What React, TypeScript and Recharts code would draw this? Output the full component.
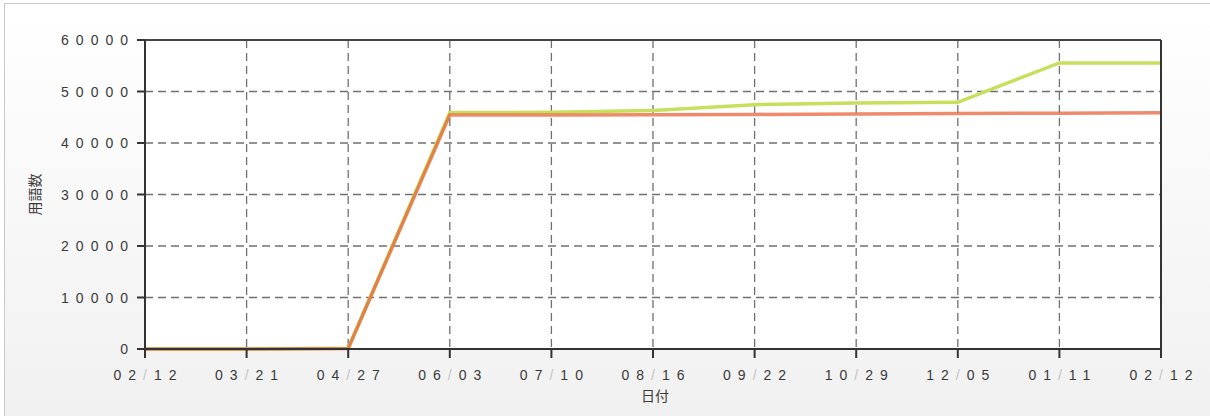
import React from "react";
import { LineChart, Line, XAxis, YAxis, CartesianGrid } from "recharts";

const dates = ["02/12", "03/21", "04/27", "06/03", "07/10", "08/16", "09/22", "10/29", "12/05", "01/11", "02/12"];
const totalTerms = [0, 0, 150, 45900, 45950, 46300, 47450, 47750, 47900, 55550, 55550];
const approvedTerms = [0, 0, 100, 45450, 45450, 45500, 45550, 45650, 45750, 45800, 45850];
const yTicks = [0, 10000, 20000, 30000, 40000, 50000, 60000];

const data = dates.map((d, i) => ({ date: d, total: totalTerms[i], approved: approvedTerms[i] }));

const LS = 7;
const FONT = "'Liberation Sans', Arial, sans-serif";
const JP = "'Noto Sans CJK JP', sans-serif";
const TXT = "#3a3a3a";

function chars(s: string) {
  return s.split("").map((c, i) => (
    <tspan key={i} fill={c === "/" ? "#c4c4c4" : TXT}>{c}</tspan>
  ));
}

function YTick(props: any) {
  const { x, y, payload } = props;
  return (
    <text x={x + LS} y={y} dy={5} textAnchor="end" fontSize={14} fontFamily={FONT} letterSpacing={LS} fill={TXT}>
      {String(payload.value)}
    </text>
  );
}

function XTick(props: any) {
  const { x, y, payload } = props;
  return (
    <text x={x + LS / 2} y={y} dy={20} textAnchor="middle" fontSize={14} fontFamily={FONT} letterSpacing={LS}>
      {chars(String(payload.value))}
    </text>
  );
}

export default function App() {
  return (
    <div style={{ position: "relative", width: 1210, height: 416, overflow: "hidden" }}>
      <style>{`body{margin:0}`}</style>
      <div
        style={{
          position: "absolute",
          left: 4,
          top: 3,
          width: 1230,
          height: 430,
          border: "1px solid #c8c8c8",
          background: "linear-gradient(#ffffff, #f0f0f0)",
        }}
      />
      <div style={{ position: "absolute", left: 0, top: 0 }}>
        <LineChart width={1210} height={416} data={data} margin={{ top: 39, right: 48, left: 85, bottom: 27 }}>
          <CartesianGrid stroke="#707070" strokeWidth={1.3} strokeDasharray="8 5" fill="#fff" />
          <XAxis
            dataKey="date"
            interval={0}
            tick={<XTick />}
            tickSize={9}
            tickMargin={2}
            height={40}
            stroke="#333"
            strokeWidth={2}
            tickLine={{ stroke: "#333", strokeWidth: 2 }}
            label={{
              content: (p: any) => (
                <text x={p.viewBox.x + p.viewBox.width / 2 + 2} y={p.viewBox.y + 52} textAnchor="middle" fontSize={14} fontFamily={JP} fill={TXT}>
                  日付
                </text>
              ),
            }}
          />
          <XAxis xAxisId="top" orientation="top" dataKey="date" tick={false} tickLine={false} height={1} stroke="#444" strokeWidth={2} />
          <YAxis
            domain={[0, 60000]}
            ticks={yTicks}
            tick={<YTick />}
            tickSize={8}
            tickMargin={9}
            width={60}
            stroke="#333"
            strokeWidth={2}
            tickLine={{ stroke: "#333", strokeWidth: 2 }}
            label={{
              content: (p: any) => {
                const cx = p.viewBox.x - 50;
                const cy = p.viewBox.y + p.viewBox.height / 2;
                return (
                  <text x={cx} y={cy} transform={`rotate(-90 ${cx} ${cy})`} textAnchor="middle" dy={5} fontSize={14} fontFamily={JP} fill={TXT}>
                    用語数
                  </text>
                );
              },
            }}
          />
          <YAxis yAxisId="right" orientation="right" domain={[0, 60000]} tick={false} tickLine={false} width={1} stroke="#333" strokeWidth={2} />
          <Line dataKey="total" stroke="#c6e05e" strokeWidth={3.5} dot={false} isAnimationActive={false} />
          <Line dataKey="approved" stroke="#e8643c" strokeOpacity={0.75} strokeWidth={3.5} dot={false} isAnimationActive={false} />
        </LineChart>
      </div>
    </div>
  );
}
